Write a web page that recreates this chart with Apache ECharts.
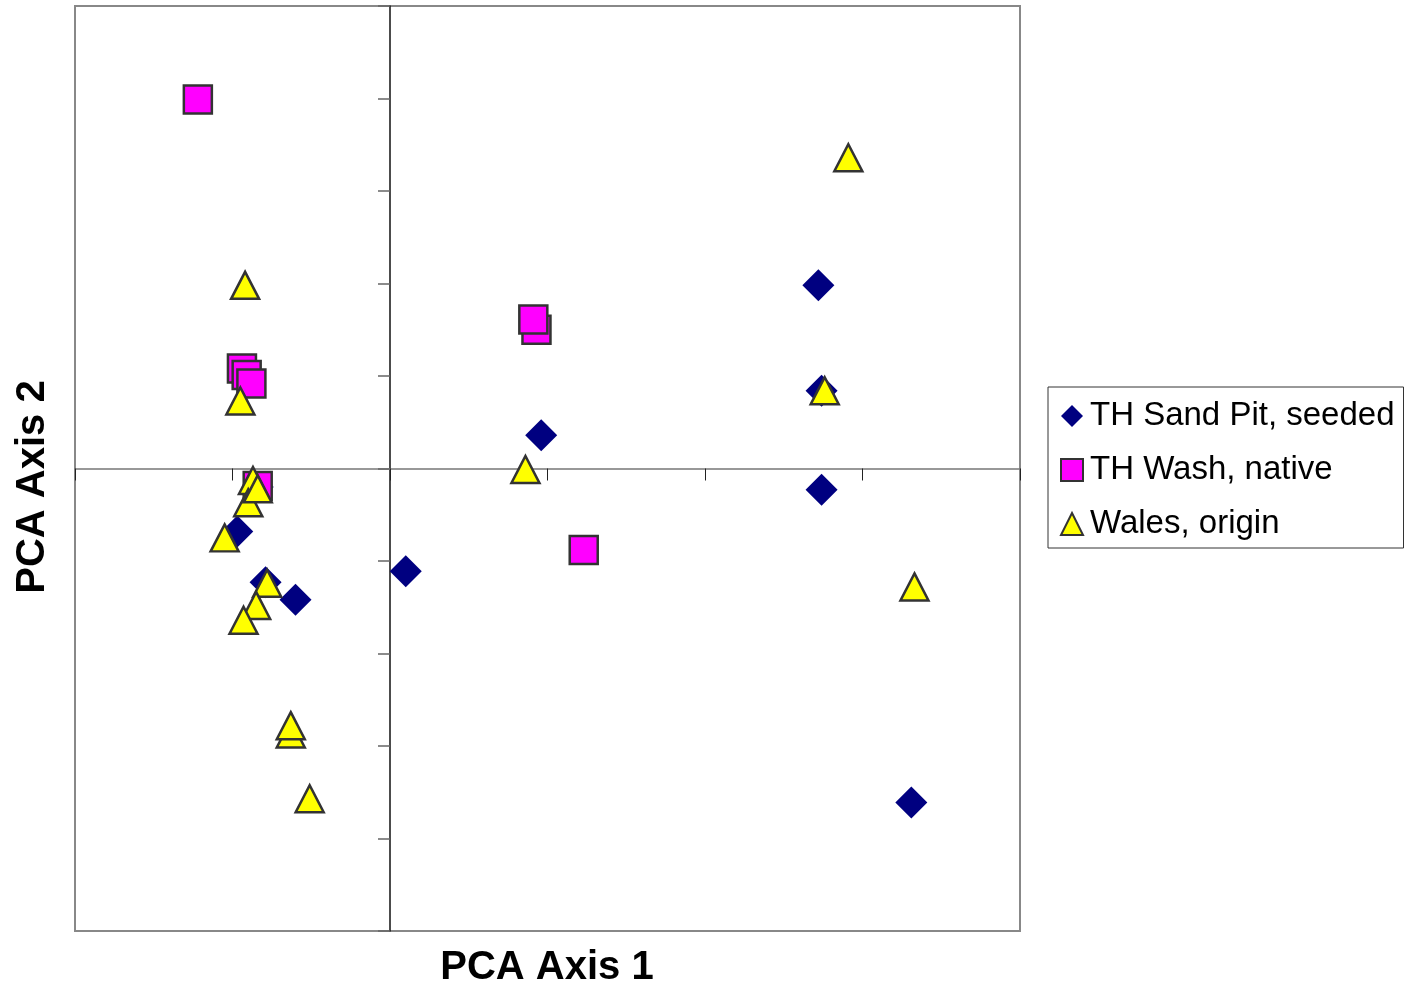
<!DOCTYPE html>
<html>
<head>
<meta charset="utf-8">
<script src="https://cdn.jsdelivr.net/npm/echarts@6/dist/echarts.min.js"></script>
<style>
  html, body { margin: 0; padding: 0; background: #fff; }
  #chart { width: 1407px; height: 987px; }
</style>
</head>
<body>
<div id="chart"></div>
<script>
// series names
var seriesNames = ['TH Sand Pit, seeded', 'TH Wash, native', 'Wales, origin'];

// PCA scores [axis1, axis2]
var sandPit = [
  [2.72, 1.98], [2.74, 0.84], [2.74, -0.23], [0.96, 0.36], [0.10, -1.11],
  [3.31, -3.61], [-0.60, -1.42], [-0.79, -1.23], [-0.97, -0.68], [-0.84, -0.20]
];
var washNative = [
  [-1.22, 3.99], [0.93, 1.50], [0.91, 1.61], [-0.94, 1.08], [-0.91, 1.01],
  [-0.88, 0.92], [1.23, -0.88], [-0.84, -0.19]
];
var walesOrigin = [
  [2.91, 3.36], [-0.92, 1.98], [-0.95, 0.73], [0.86, -0.01], [2.76, 0.84],
  [3.33, -1.28], [-0.87, -0.13], [-0.90, -0.37], [-0.84, -0.22], [-1.05, -0.75],
  [-0.78, -1.24], [-0.85, -1.48], [-0.93, -1.64], [-0.63, -2.87], [-0.63, -2.78],
  [-0.51, -3.57]
];

// axis ranges
var xRange = [-2, 4];
var yRange = [-5, 5];

var myChart = echarts.init(document.getElementById('chart'));

myChart.setOption({
  backgroundColor: '#fff',
  animation: false,
  textStyle: { fontFamily: 'Liberation Sans' },
  grid: {
    left: 75, top: 6, width: 945, height: 925,
    show: true, borderColor: '#888', borderWidth: 2
  },
  xAxis: {
    type: 'value', min: xRange[0], max: xRange[1], interval: 1,
    axisLine: { onZero: true, lineStyle: { color: '#777', width: 1.5 } },
    axisTick: { show: true, inside: false, length: 12, lineStyle: { color: '#222' } },
    axisLabel: { show: false },
    splitLine: { show: false }
  },
  yAxis: {
    type: 'value', min: yRange[0], max: yRange[1], interval: 1,
    axisLine: { onZero: true, lineStyle: { color: '#111', width: 1.5 } },
    axisTick: { show: true, inside: false, length: 12, lineStyle: { color: '#666', width: 1.5 } },
    axisLabel: { show: false },
    splitLine: { show: false }
  },
  legend: {
    left: 1048, top: 387,
    orient: 'vertical',
    padding: [12, 9, 7, 12],
    itemGap: 20,
    itemWidth: 22, itemHeight: 22,
    borderColor: '#333', borderWidth: 1,
    textStyle: { fontSize: 33, color: '#000', lineHeight: 34, padding: [0, 0, 0, 2], fontFamily: 'Liberation Sans' },
    data: seriesNames
  },
  graphic: [
    {
      type: 'text', x: 547, y: 948,
      style: { text: 'PCA Axis 1', font: 'bold 40px "Liberation Sans"', fill: '#000', align: 'center' }
    },
    {
      type: 'text', rotation: Math.PI / 2, x: 13, y: 487,
      style: { text: 'PCA Axis 2', font: 'bold 40px "Liberation Sans"', fill: '#000', align: 'center' }
    }
  ],
  series: [
    {
      name: seriesNames[0], type: 'scatter', symbol: 'diamond', symbolSize: 32,
      itemStyle: { color: '#000080', opacity: 1 },
      data: sandPit
    },
    {
      name: seriesNames[1], type: 'scatter', symbol: 'rect', symbolSize: 28,
      itemStyle: { color: '#ff00ff', borderColor: '#333', borderWidth: 2.5, opacity: 1 },
      data: washNative
    },
    {
      name: seriesNames[2], type: 'scatter', symbol: 'triangle', symbolSize: [28, 27],
      itemStyle: { color: '#ffff00', borderColor: '#333', borderWidth: 2.5, opacity: 1 },
      data: walesOrigin
    }
  ]
});
</script>
</body>
</html>
